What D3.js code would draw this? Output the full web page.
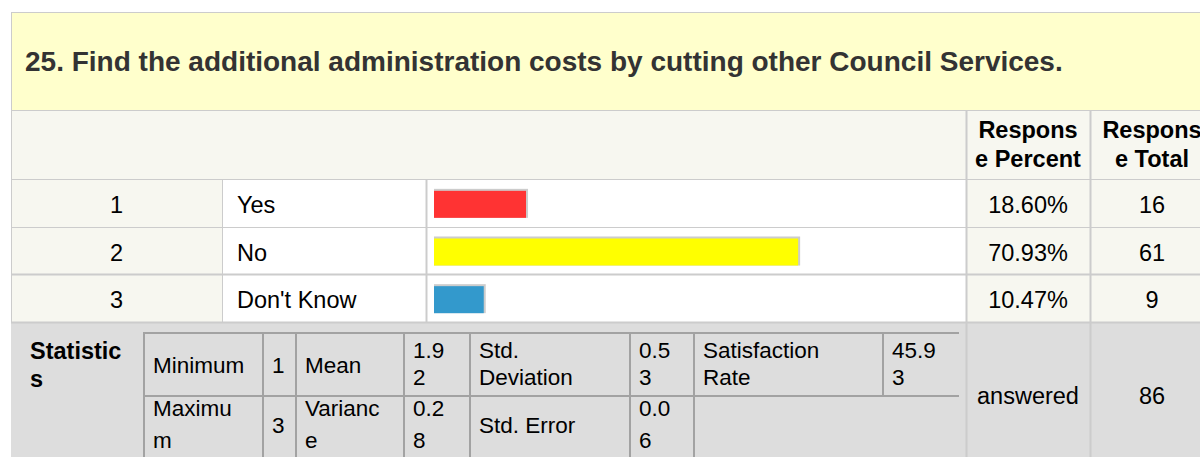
<!DOCTYPE html>
<html>
<head>
<meta charset="utf-8">
<script src="https://cdn.jsdelivr.net/npm/d3@7/dist/d3.min.js"></script>
<style>
  html, body { margin: 0; padding: 0; background: #fff; }
  svg { display: block; font-family: "Liberation Sans", Arial, Helvetica, sans-serif; }
</style>
</head>
<body>
<svg id="chart" width="1200" height="457"></svg>
<script>
// Survey question 25 – response breakdown and summary statistics
const questionTitle = "25. Find the additional administration costs by cutting other Council Services.";
const choiceIds = ["1", "2", "3"];
const choiceLabels = ["Yes", "No", "Don't Know"];
const responsePercent = [18.60, 70.93, 10.47];
const responseTotal = [16, 61, 9];
const barColors = ["#FF3333", "#FFFF00", "#3399CC"];
const headerPercent = ["Respons", "e Percent"];
const headerTotal = ["Respons", "e Total"];
const statsHeading = ["Statistic", "s"];
const answeredLabel = "answered";
const answeredCount = 86;
// statistics grid, one entry per cell, each entry holds its wrapped lines
const statsRowTop = [["Minimum"], ["1"], ["Mean"], ["1.9", "2"], ["Std.", "Deviation"], ["0.5", "3"], ["Satisfaction", "Rate"], ["45.9", "3"]];
const statsRowBottom = [["Maximu", "m"], ["3"], ["Varianc", "e"], ["0.2", "8"], ["Std. Error"], ["0.0", "6"]];

const svg = d3.select("#chart");
const W = 1200;

const C = {
  border: "#CCCCCC",
  titleBg: "#FFFFCC",
  cream: "#F7F7F0",
  stats: "#DDDDDD",
  inner: "#A2A2A2",
  text: "#000000",
  title: "#333333"
};

// table geometry
const left = 11;
const colEdges = [left, 222, 426, 966, 1090, 1214];
const titleTop = 12, headerTop = 110, rowsTop = 179, rowsBottom = 322;

const y = d3.scaleBand().domain(choiceIds).range([rowsTop, rowsBottom]);
const barX0 = 434;
const x = d3.scaleLinear().domain([0, 100]).range([0, 520]);
const barInset = 2.7; // bar frame sits a few pixels inside the scaled length

// backgrounds
svg.append("rect").attr("x", left).attr("y", titleTop).attr("width", W - left).attr("height", headerTop - titleTop).attr("fill", C.titleBg);
svg.append("rect").attr("x", left).attr("y", headerTop).attr("width", W - left).attr("height", rowsTop - headerTop).attr("fill", C.cream);
svg.append("rect").attr("x", left).attr("y", rowsTop).attr("width", colEdges[1] - left).attr("height", rowsBottom - rowsTop).attr("fill", C.cream);
svg.append("rect").attr("x", colEdges[1]).attr("y", rowsTop).attr("width", colEdges[3] - colEdges[1]).attr("height", rowsBottom - rowsTop).attr("fill", "#fff");
svg.append("rect").attr("x", colEdges[3]).attr("y", rowsTop).attr("width", W - colEdges[3]).attr("height", rowsBottom - rowsTop).attr("fill", C.cream);
svg.append("rect").attr("x", left).attr("y", rowsBottom).attr("width", W - left).attr("height", 457 - rowsBottom).attr("fill", C.stats);

// title
svg.append("text")
  .attr("x", 25).attr("y", 71)
  .attr("font-size", 28).attr("font-weight", "bold").attr("fill", C.title)
  .text(questionTitle);

// outer grid lines
const hl = (y0, x1, x2, w) => svg.append("line").attr("x1", x1).attr("x2", x2).attr("y1", y0).attr("y2", y0)
  .attr("stroke", C.border).attr("stroke-width", w || 1);
const vl = (x0, y1, y2, w) => svg.append("line").attr("x1", x0).attr("x2", x0).attr("y1", y1).attr("y2", y2)
  .attr("stroke", C.border).attr("stroke-width", w || 1);

hl(titleTop + 0.5, left, W);
hl(headerTop + 0.5, left, W);
choiceIds.forEach((id, i) => hl(Math.round(y(id)) + 0.5, left, W, i === 2 ? 2 : 1));
hl(rowsBottom + 0.5, left, W, 2);
vl(left + 0.5, titleTop, rowsBottom);
vl(colEdges[1] + 0.5, rowsTop, rowsBottom);
vl(colEdges[2] + 0.5, rowsTop, rowsBottom, 2);
vl(colEdges[3] + 0.5, headerTop, 457, 2);
vl(colEdges[4] + 0.5, headerTop, 457, 2);

const colMid = i => (colEdges[i] + colEdges[i + 1]) / 2;

// multi-line text helper
function lines(g, arr, cx, y0, gap, anchor, size, weight) {
  const t = g.append("text").attr("text-anchor", anchor).attr("font-size", size)
    .attr("font-weight", weight || "normal").attr("fill", C.text);
  arr.forEach((s, i) => t.append("tspan").attr("x", cx).attr("y", y0 + i * gap).text(s));
  return t;
}
lines(svg, headerPercent, colMid(3), 138, 29, "middle", 23.5, "bold");
lines(svg, headerTotal, colMid(4), 138, 29, "middle", 23.5, "bold");

// answer rows
const rows = svg.selectAll("g.row")
  .data(choiceIds.map((id, i) => ({ id, label: choiceLabels[i], pct: responsePercent[i], total: responseTotal[i], color: barColors[i] })))
  .join("g").attr("class", "row")
  .attr("transform", d => `translate(0,${y(d.id) + y.bandwidth() / 2})`);

rows.append("text").attr("x", colMid(0)).attr("y", 10).attr("text-anchor", "middle")
  .attr("font-size", 23.5).attr("fill", C.text).text(d => d.id);
rows.append("text").attr("x", 237).attr("y", 10)
  .attr("font-size", 23.5).attr("fill", C.text).text(d => d.label);
rows.append("rect").attr("x", barX0).attr("y", -14).attr("height", 29)
  .attr("width", d => x(d.pct) - barInset).attr("fill", "#CCCCCC");
rows.append("rect").attr("x", barX0).attr("y", -12).attr("height", 27)
  .attr("width", d => x(d.pct) - barInset - 2).attr("fill", d => d.color);
rows.append("text").attr("x", colMid(3)).attr("y", 10).attr("text-anchor", "middle")
  .attr("font-size", 23.5).attr("fill", C.text).text(d => d3.format(".2f")(d.pct) + "%");
rows.append("text").attr("x", colMid(4)).attr("y", 10).attr("text-anchor", "middle")
  .attr("font-size", 23.5).attr("fill", C.text).text(d => d.total);

// statistics row
lines(svg, statsHeading, 30, 359, 28, "start", 23.5, "bold");
svg.append("text").attr("x", colMid(3)).attr("y", 404).attr("text-anchor", "middle")
  .attr("font-size", 23.5).attr("fill", C.text).text(answeredLabel);
svg.append("text").attr("x", colMid(4)).attr("y", 404).attr("text-anchor", "middle")
  .attr("font-size", 23.5).attr("fill", C.text).text(answeredCount);

// inner statistics grid
const innerCols = [143, 262, 295, 403, 469, 629, 693, 882, 959];
const innerRows = [
  { top: 332, base: 373, gap: 27, cells: statsRowTop },
  { top: 395, base: 433, gap: 32, cells: statsRowBottom }
];
const ig = svg.append("g");
const iline = (x1, y1, x2, y2) => ig.append("line").attr("x1", x1).attr("y1", y1).attr("x2", x2).attr("y2", y2)
  .attr("stroke", C.inner).attr("stroke-width", 2);

iline(innerCols[0], 333, innerCols[8], 333);
iline(innerCols[0], 396, innerCols[8], 396);
innerCols.slice(0, 7).forEach(cx => iline(cx + 1, 332, cx + 1, 457));
iline(innerCols[7] + 1, 332, innerCols[7] + 1, 396);

innerRows.forEach(r => {
  r.cells.forEach((cell, i) => {
    const tx = innerCols[i] + 10;
    const y0 = cell.length === 1 ? r.base : r.base - r.gap / 2 - 1.5;
    lines(ig, cell, tx, y0, r.gap, "start", 22.5);
  });
});
</script>
</body>
</html>
